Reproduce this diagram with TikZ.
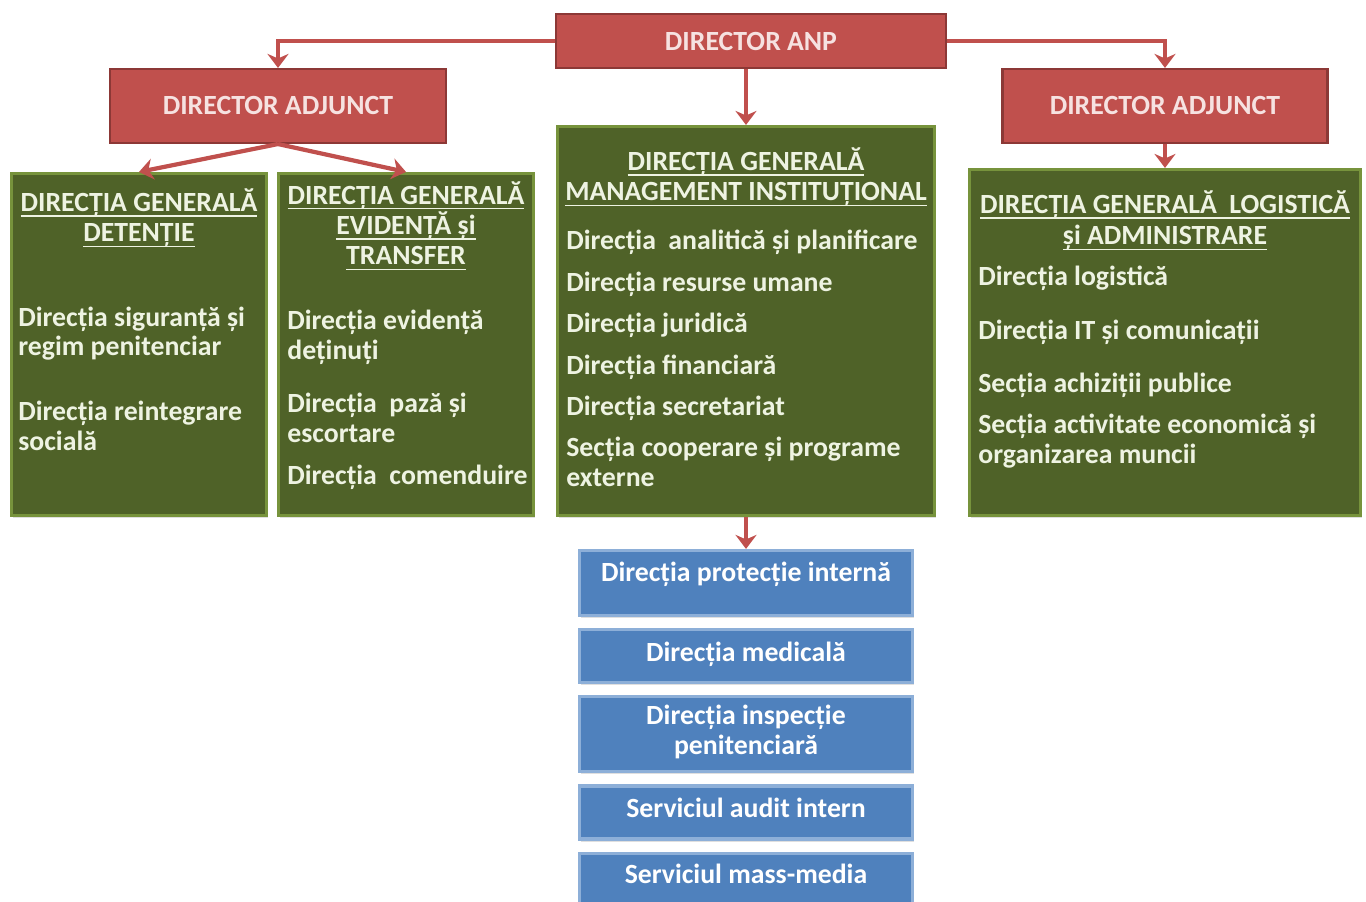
\documentclass[tikz,border=0pt]{standalone}
\usepackage{xcolor}
\usepackage{fontspec}
\setmainfont{Carlito}
\usepackage{tikz}
\usetikzlibrary{positioning,arrows.meta,shadows}
\definecolor{anpred}{RGB}{192, 80, 77}
\definecolor{anpredline}{RGB}{140, 56, 54}
\definecolor{anpredtext}{RGB}{246, 226, 225}
\definecolor{anpgreen}{RGB}{79, 98, 40}
\definecolor{anpgreenline}{RGB}{119, 147, 60}
\definecolor{anpgreentext}{RGB}{238, 243, 226}
\definecolor{anpblue}{RGB}{79, 129, 189}
\definecolor{anpblueline}{RGB}{141, 175, 216}

\newcommand\undl[1]{\setbox0\hbox{#1}\rlap{\rule[-3pt]{\wd0}{0.8pt}}\box0}

\tikzset{
  redbox/.style={rectangle, draw=anpredline, line width=1.2pt, fill=anpred, inner sep=0pt,
    text=anpredtext, font=\fontsize{15.8}{17}\selectfont\bfseries},
  greenbox/.style={rectangle, draw=anpgreenline, line width=1.8pt, fill=anpgreen, inner sep=0pt,
    drop shadow={shadow xshift=1pt, shadow yshift=-1.5pt, opacity=0.25}},
  bluebox/.style={rectangle, draw=anpblueline, line width=1.8pt, fill=anpblue, inner sep=0pt,
    minimum width=6.66cm, text=white, align=center, text depth=5pt,
    font=\fontsize{15.8}{17}\selectfont\bfseries,
    drop shadow={shadow xshift=1pt, shadow yshift=-1.5pt, opacity=0.25}},
  head/.style={anchor=base, align=center, inner sep=0pt, text=anpgreentext,
    font=\fontsize{15.8}{17.3}\selectfont\bfseries},
  item/.style={anchor=base west, align=left, inner sep=0pt, text=anpgreentext,
    font=\fontsize{15.8}{17}\selectfont\bfseries},
  link/.style={-{Stealth[length=8pt, width=12pt]}, line width=2.4pt, anpred}
}

\begin{document}
\begin{tikzpicture}[x=0.02cm, y=-0.02cm]
  \clip (0,0) rectangle (1366,902);

  % conducere
  \node[redbox, minimum width=7.8cm, minimum height=1.08cm] (anp) at (751,41) {DIRECTOR ANP};
  \node[redbox, minimum width=6.72cm, minimum height=1.48cm] (adj1) at (278,106) {DIRECTOR ADJUNCT};
  \node[redbox, minimum width=6.5cm, minimum height=1.48cm] (adj2) at (1165,106) {DIRECTOR ADJUNCT};

  % directii generale
  \node[greenbox, minimum width=5.1cm, minimum height=6.84cm] (g1) at (139,344.5) {};
  \node[greenbox, minimum width=5.1cm, minimum height=6.84cm] (g2) at (406,344.5) {};
  \node[greenbox, minimum width=7.54cm, minimum height=7.78cm] (g3) at (746,321) {};
  \node[greenbox, minimum width=7.82cm, minimum height=6.92cm] (g4) at (1165,342.5) {};

  % directii subordonate direct
  \node[bluebox, minimum height=1.3cm, text depth=13pt] (b1) at (746,583) {Direcția protecție internă};
  \node[bluebox, minimum height=1.06cm, below=0.22cm of b1] (b2) {Direcția medicală};
  \node[bluebox, minimum height=1.5cm, below=0.22cm of b2] (b3) {Direcția inspecție\\penitenciară};
  \node[bluebox, minimum height=1.06cm, below=0.22cm of b3] (b4) {Serviciul audit intern};
  \node[bluebox, minimum height=1.02cm, below=0.22cm of b4] (b5) {Serviciul mass-media};

  % legaturi
  \draw[link] (anp.west) -| (adj1.north);
  \draw[link] (anp.east) -| (adj2.north);
  \draw[link] (anp.south -| g3.north) -- (g3.north);
  \draw[link] (adj1.south) -- (g1.north);
  \draw[link] (adj1.south) -- (g2.north);
  \draw[link] (adj2.south -| g4.north) -- (g4.north);
  \draw[link] (g3.south) -- (b1.north);

  % detentie
  \node[head] (g1head) at (139,242) {\undl{DIRECȚIA GENERALĂ}\\\undl{DETENȚIE}};
  \node[item] (g1a) at (18,356) {Direcția siguranță și\\regim penitenciar};
  \node[item] (g1b) at (18,450) {Direcția reintegrare\\socială};

  % evidenta si transfer
  \node[head] (g2head) at (406,265) {\undl{DIRECȚIA GENERALĂ}\\\undl{EVIDENȚĂ și}\\\undl{TRANSFER}};
  \node[item] (g2a) at (287,359) {Direcția evidență\\deținuți};
  \node[item] (g2b) at (287,442) {Direcția~ pază și\\escortare};
  \node[item] (g2c) at (287,484) {Direcția~ comenduire};

  % management institutional
  \node[head] (g3head) at (746,201) {\undl{DIRECȚIA GENERALĂ}\\\undl{MANAGEMENT INSTITUȚIONAL}};
  \node[item] (g3a) at (566,250) {Direcția~ analitică și planificare};
  \node[item] (g3b) at (566,292) {Direcția resurse umane};
  \node[item] (g3c) at (566,333) {Direcția juridică};
  \node[item] (g3d) at (566,374) {Direcția financiară};
  \node[item] (g3e) at (566,415) {Direcția secretariat};
  \node[item] (g3f) at (566,486) {Secția cooperare și programe\\externe};

  % logistica si administrare
  \node[head, font=\fontsize{15.8}{18}\selectfont\bfseries] (g4head) at (1165,245) {\undl{DIRECȚIA GENERALĂ~ LOGISTICĂ}\\\undl{și ADMINISTRARE}};
  \node[item] (g4a) at (978,286) {Direcția logistică};
  \node[item] (g4b) at (978,339) {Direcția IT și comunicații};
  \node[item] (g4c) at (978,392) {Secția achiziții publice};
  \node[item] (g4d) at (978,463) {Secția activitate economică și\\organizarea muncii};
\end{tikzpicture}
\end{document}
